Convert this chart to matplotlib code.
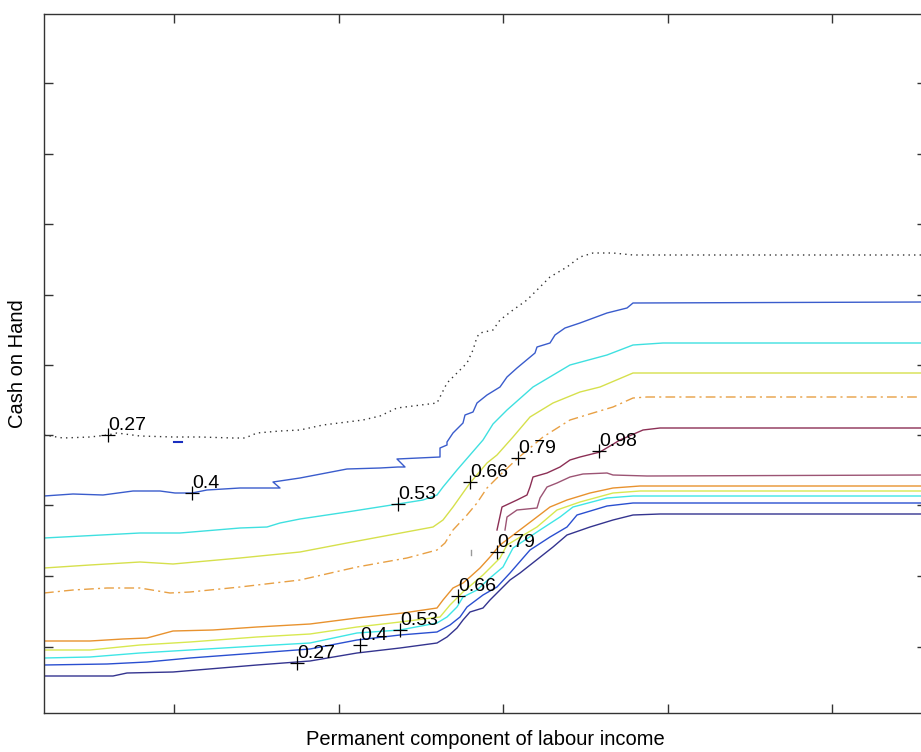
import matplotlib.pyplot as plt

plt.rcParams['font.family'] = ['Liberation Sans', 'DejaVu Sans']

# contour lines (y axis runs top -> bottom)
up27_x = [44, 63, 90, 108, 117, 140, 173, 200, 233, 245, 257, 280, 300, 323, 363, 380, 397, 437,
          440, 447, 457, 467, 473, 477, 480, 493, 500, 513, 527, 540, 550, 567, 580, 593, 613, 633, 926]
up27_y = [435, 438, 437, 435, 433, 436, 437, 437, 438, 438, 433, 431, 430, 425, 420, 416, 408, 403,
          397, 383, 373, 363, 350, 337, 333, 330, 320, 310, 300, 287, 277, 267, 257, 253, 253, 255, 255]

up40_x = [44, 73, 103, 133, 160, 175, 192, 207, 240, 280, 273, 300, 347, 380, 398, 405, 397, 440,
          440, 447, 447, 453, 463, 465, 473, 477, 487, 500, 507, 517, 535, 537, 550, 555, 565, 580,
          607, 627, 633, 926]
up40_y = [496, 494, 495, 491, 491, 493, 493, 490, 488, 488, 482, 478, 469, 468, 467, 467, 459, 457,
          448, 445, 442, 433, 423, 415, 412, 403, 395, 387, 377, 368, 353, 347, 343, 335, 328, 323,
          313, 308, 303, 302]

up53_x = [44, 140, 180, 240, 267, 280, 300, 347, 398, 423, 437, 443, 457, 470, 483, 493, 507, 533,
          570, 607, 633, 663, 926]
up53_y = [538, 533, 533, 528, 527, 523, 519, 512, 504, 500, 495, 487, 470, 455, 440, 424, 410, 387,
          365, 355, 345, 343, 343]

up66_x = [44, 90, 140, 173, 240, 300, 347, 433, 443, 453, 470, 487, 497, 513, 530, 553, 580, 600, 633, 926]
up66_y = [568, 565, 562, 564, 558, 552, 543, 527, 520, 507, 483, 463, 455, 437, 417, 403, 392, 387, 373, 373]

up79_x = [44, 73, 107, 140, 170, 190, 240, 300, 357, 407, 437, 445, 453, 467, 477, 487, 500, 518,
          543, 570, 593, 613, 633, 647, 926]
up79_y = [593, 590, 588, 588, 593, 592, 587, 580, 567, 558, 550, 543, 530, 515, 503, 488, 475, 458,
          437, 420, 413, 407, 398, 397, 397]

up98_x = [497, 502, 517, 527, 530, 533, 547, 560, 570, 580, 600, 620, 643, 660, 926]
up98_y = [530, 507, 500, 495, 487, 477, 473, 467, 460, 457, 452, 440, 430, 428, 428]

lo98_x = [505, 507, 517, 537, 540, 547, 557, 570, 583, 607, 613, 647, 926]
lo98_y = [530, 517, 510, 508, 498, 487, 483, 477, 474, 473, 475, 476, 475]

lo79_x = [44, 90, 123, 147, 173, 213, 257, 310, 357, 403, 437, 443, 453, 463, 470, 480, 490, 500,
          533, 550, 567, 590, 613, 640, 926]
lo79_y = [641, 641, 639, 638, 631, 630, 627, 624, 618, 613, 608, 600, 588, 583, 577, 568, 557, 545,
          520, 507, 500, 493, 488, 486, 486]

lo66_x = [44, 90, 140, 190, 257, 310, 357, 400, 440, 450, 463, 483, 500, 507, 537, 557, 580, 613, 640, 926]
lo66_y = [650, 650, 645, 642, 637, 634, 627, 622, 617, 605, 592, 575, 558, 545, 527, 510, 502, 493, 491, 491]

lo53_x = [44, 90, 140, 190, 257, 310, 357, 400, 437, 447, 457, 463, 477, 490, 503, 513, 540, 560,
          573, 607, 633, 926]
lo53_y = [658, 657, 653, 650, 646, 643, 633, 630, 623, 617, 607, 597, 590, 578, 567, 548, 530, 517,
          507, 498, 496, 496]

lo40_x = [44, 107, 147, 190, 257, 310, 357, 400, 437, 450, 460, 467, 483, 497, 510, 530, 550, 567,
          577, 607, 633, 926]
lo40_y = [665, 664, 662, 658, 653, 649, 640, 635, 632, 625, 617, 607, 595, 587, 573, 550, 537, 527,
          515, 506, 503, 503]

lo27_x = [44, 113, 127, 173, 257, 310, 357, 400, 437, 447, 457, 463, 470, 483, 490, 503, 510, 520,
          553, 567, 590, 613, 633, 660, 926]
lo27_y = [676, 676, 673, 672, 665, 661, 653, 648, 643, 637, 628, 620, 612, 608, 600, 587, 580, 573,
          547, 535, 527, 520, 515, 514, 514]

# tiny islands
blip_x = [174, 182]
blip_y = [442, 442]
speck_x = [471, 471]
speck_y = [550, 555]

# contour labels
label_text = ["0.27", "0.4", "0.53", "0.66", "0.79", "0.98", "0.27", "0.4", "0.53", "0.66", "0.79"]
label_x = [108, 192, 398, 470, 518, 599, 297, 360, 400, 458, 497]
label_y = [435, 493, 504, 482, 458, 451, 663, 645, 630, 596, 552]

fig = plt.figure(figsize=(9.21, 7.52), dpi=100)
ax = fig.add_axes([44 / 921, 39 / 752, 882 / 921, 699 / 752])

lw = 1.0
ax.plot(up27_x, up27_y, color='#333333', lw=lw, linestyle=(0, (1, 3)))
ax.plot(up40_x, up40_y, color='#3a5ccc', lw=lw)
ax.plot(up53_x, up53_y, color='#3fe0e0', lw=lw)
ax.plot(up66_x, up66_y, color='#d6e04c', lw=lw)
ax.plot(up79_x, up79_y, color='#e8a044', lw=lw, linestyle=(0, (7, 3, 1.5, 3)))
ax.plot(up98_x, up98_y, color='#8c2f55', lw=lw)
ax.plot(lo98_x, lo98_y, color='#9c5474', lw=lw)
ax.plot(lo79_x, lo79_y, color='#e8922e', lw=lw)
ax.plot(lo66_x, lo66_y, color='#d8e850', lw=lw)
ax.plot(lo53_x, lo53_y, color='#3fe6e6', lw=lw)
ax.plot(lo40_x, lo40_y, color='#2a4fd0', lw=lw)
ax.plot(lo27_x, lo27_y, color='#34348f', lw=lw)
ax.plot(blip_x, blip_y, color='#1a2fbf', lw=1.5)
ax.plot(speck_x, speck_y, color='#999999', lw=1.0)

ax.plot(label_x, label_y, linestyle='none', marker='+', color='black', markersize=10, mew=0.9)
for t, x, y in zip(label_text, label_x, label_y):
    ax.annotate(t, xy=(x, y), xytext=(0, 3.5), textcoords='offset points',
                ha='left', va='baseline', fontsize=14)

ax.set_xlim(44, 926)
ax.set_ylim(713, 14)
ax.set_xticks([174, 338.5, 503, 667.5, 832])
ax.set_yticks([83, 154, 224, 295, 365, 435, 505, 576, 647])
ax.tick_params(direction='in', length=6.5, width=1, colors='#333333',
               top=True, right=True, labelbottom=False, labelleft=False)
for s in ax.spines.values():
    s.set_color('#333333')
    s.set_linewidth(1)

ax.set_xlabel('Permanent component of labour income', fontsize=14.5, labelpad=12)
ax.set_ylabel('Cash on Hand', fontsize=14.5, labelpad=12)

plt.savefig('out.png', dpi=100)
